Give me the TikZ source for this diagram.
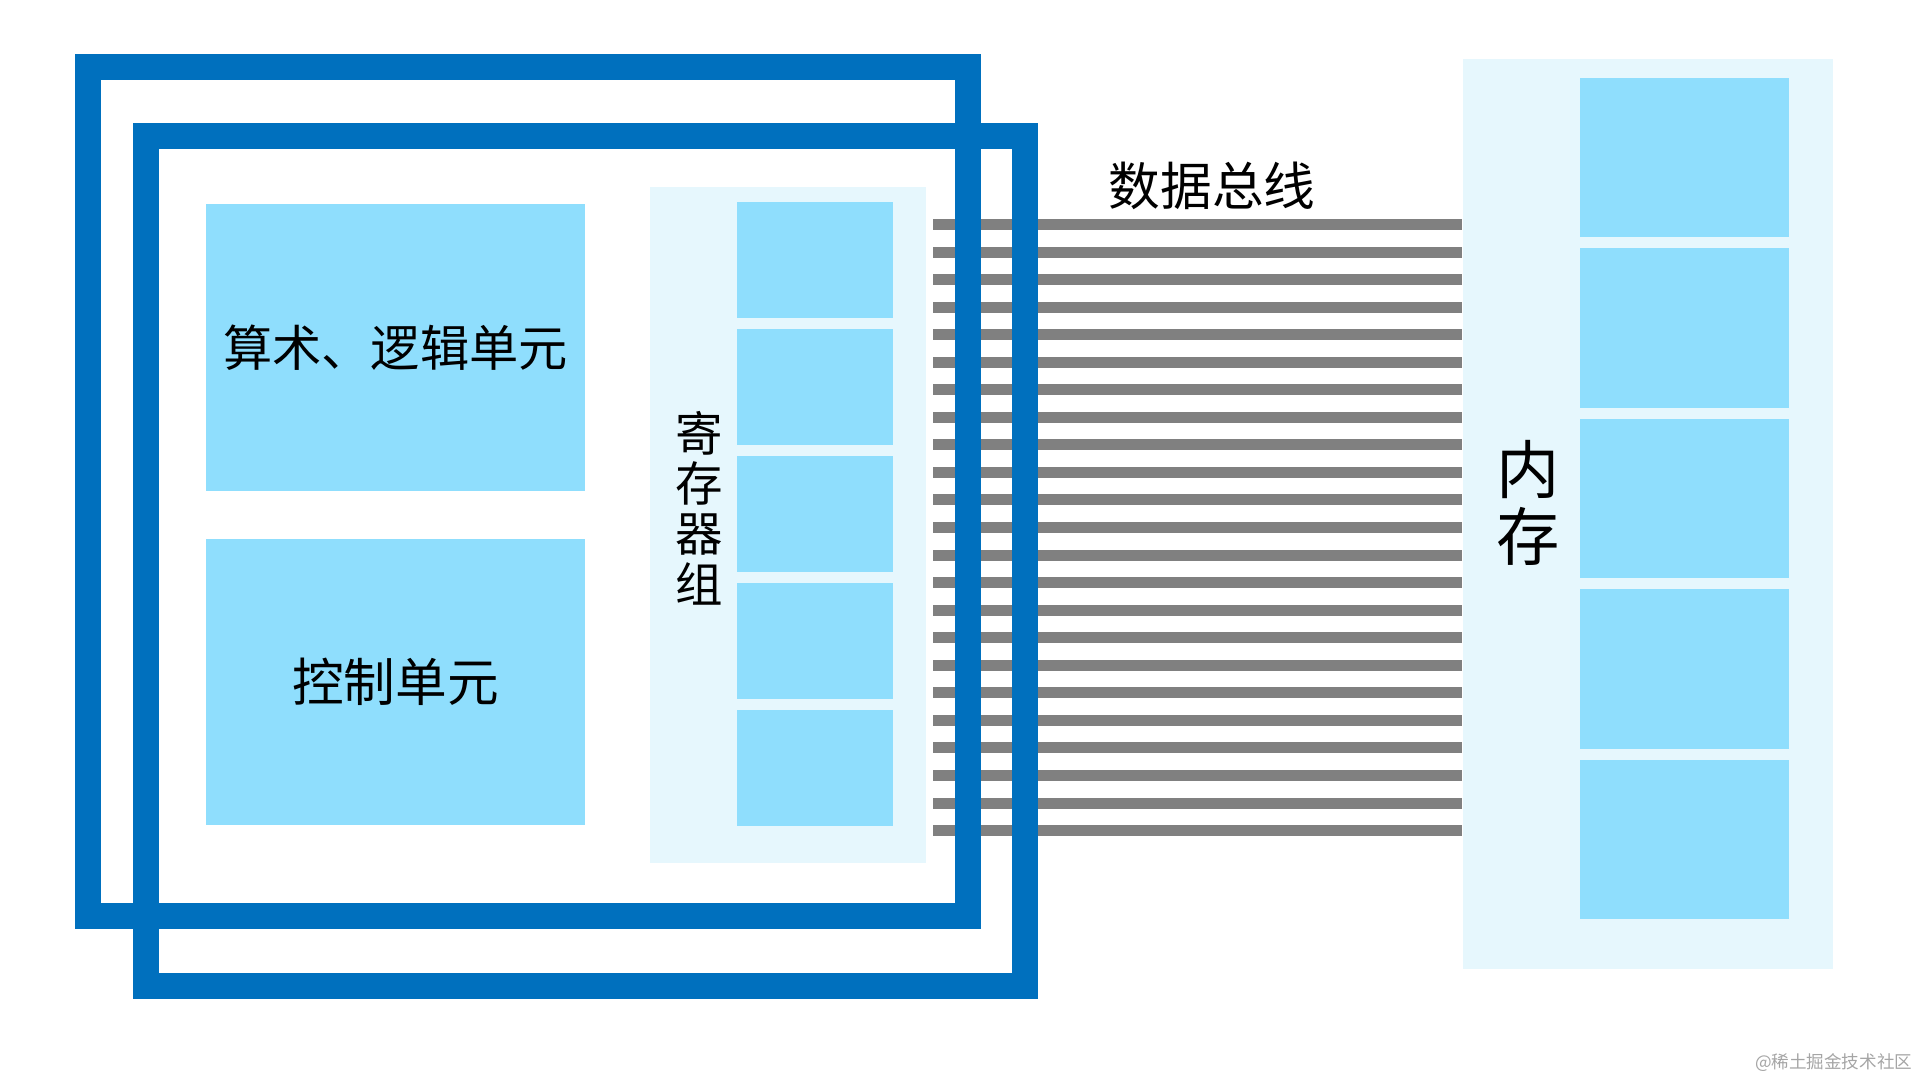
\documentclass[tikz,border=0pt]{standalone}
\usepackage{fontspec}
\setmainfont{Noto Sans CJK SC}
\definecolor{cpublue}{RGB}{0,112,190}
\definecolor{cellblue}{RGB}{143,222,253}
\definecolor{panelblue}{RGB}{230,247,253}
\definecolor{busgray}{RGB}{128,128,128}
\definecolor{markgray}{RGB}{165,165,165}
\tikzset{
    cell/.style={fill=cellblue, inner sep=0pt, outer sep=0pt},
    cpuframe/.style={draw=cpublue, line width=0.26cm},
    busline/.style={draw=busgray, line width=0.11cm},
}

\begin{document}
\begin{tikzpicture}[x=0.01cm, y=-0.01cm]
    \useasboundingbox (0,0) rectangle (1920,1080);
    % Register group
    \fill[panelblue] (650,187) rectangle (926,863);
    \foreach \i in {1,...,5}{
        \node[cell, minimum width=1.56cm, minimum height=1.16cm] (r\i) at (815,{260+127*(\i-1)}) {};
    }
    \node[font=\fontsize{13.5}{14.3}\selectfont, align=center] (regs) at (699,508) {寄\\存\\器\\组};
    % ALU and control unit
    \node[cell, minimum width=3.79cm, minimum height=2.87cm, font=\fontsize{14}{14}\selectfont] (alu) at (395.5,347.5) {算术、逻辑单元};
    \node[cell, minimum width=3.79cm, minimum height=2.86cm, font=\fontsize{14.7}{14.7}\selectfont] (ctrl) at (395.5,682) {控制单元};
    % Memory
    \fill[panelblue] (1463,59) rectangle (1833,969);
    \foreach \i in {1,...,5}{
        \node[cell, minimum width=2.09cm, minimum height=1.59cm] (m\i) at (1684.5,{157.5+170.5*(\i-1)}) {};
    }
    \node[font=\fontsize{18}{19}\selectfont, align=center] (mem) at (1528,503) {内\\存};
    % Data bus
    \foreach \i in {0,...,22}{
        \draw[busline] (933,{224.5+27.55*\i}) -- (1462,{224.5+27.55*\i});
    }
    \node[font=\fontsize{14.7}{14.7}\selectfont] (bus) at (1212,186) {数据总线};
    % CPU frames
    \draw[cpuframe] (88,67) rectangle (968,916);
    \draw[cpuframe] (146,136) rectangle (1025,986);
    \node[text=markgray, font=\fontsize{5}{5}\selectfont, anchor=east, inner sep=0pt] (mark) at (1913,1063) {@稀土掘金技术社区};
\end{tikzpicture}
\end{document}
